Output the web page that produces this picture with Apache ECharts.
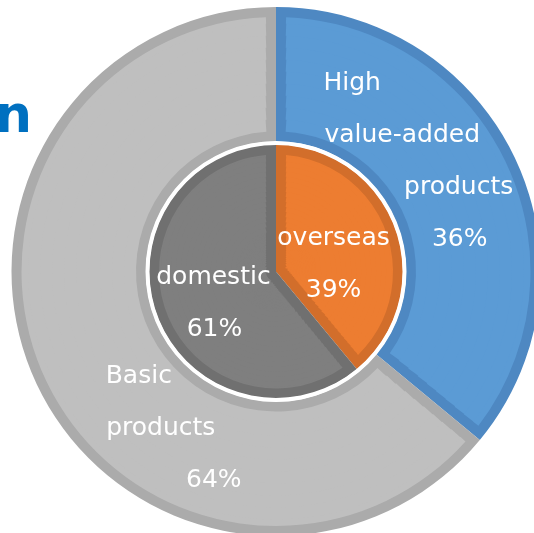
<!DOCTYPE html>
<html>
<head>
<meta charset="utf-8">
<script src="https://cdn.jsdelivr.net/npm/echarts@6/dist/echarts.min.js"></script>
<style>
  html, body { margin: 0; padding: 0; background: #ffffff; }
  #chart { width: 534px; height: 533px; }
</style>
</head>
<body>
<div id="chart"></div>
<script>
// Product mix (outer ring) and sales region split (inner pie), in percent
const productNames = ['High value-added products', 'Basic products'];
const productShares = [36, 64];
const regionNames = ['overseas', 'domestic'];
const regionShares = [39, 61];

// geometry (px)
const CENTER = [276, 271.5];
const OUTER = [130, 264.5];
const INNER = 127;
const BAND = 10;          // width of the darker rim inside every slice

// colours: slice body and its darker rim
const productFill = ['#5B9BD5', '#BFBFBF'];
const productEdge = ['#4E88C2', '#ABABAB'];
const regionFill = ['#ED7D31', '#7F7F7F'];
const regionEdge = ['#D26E2B', '#707070'];

const FONT = 'DejaVu Sans';

// horizontal shift of each label line from the label block centre
const productLineShift = [[-50, 0, 56.5, 57.5], [-22, 0, 53]];
const regionLineShift = [[0, 0], [-1, 0]];
// displacement of each label block from the default inside position
const productLabelMove = [[-55, -24.5], [66, 72]];
const regionLabelMove = [[-5, 15.5], [1, 9.5]];

function lineStyle(shift) {
  return {
    fontFamily: FONT, fontSize: 25, lineHeight: 52, color: '#ffffff',
    padding: shift >= 0 ? [0, 0, 0, 2 * shift] : [0, -2 * shift, 0, 0]
  };
}

function richFor(prefix, shifts) {
  const rich = {};
  shifts.forEach((arr, d) => arr.forEach((s, i) => { rich[prefix + d + '_' + i] = lineStyle(s); }));
  return rich;
}

function formatterFor(prefix) {
  return p => p.name.split(' ').concat([p.value + '%'])
    .map((t, i) => '{' + prefix + p.dataIndex + '_' + i + '|' + t + '}')
    .join('\n');
}

function pieBase(extra) {
  return Object.assign({
    type: 'pie', center: CENTER, startAngle: 90, clockwise: true,
    silent: true, animation: false, avoidLabelOverlap: false,
    label: { show: false }, labelLine: { show: false },
    emphasis: { disabled: true }
  }, extra);
}

function sliceData(names, values, colors) {
  return names.map((n, i) => ({ name: n, value: values[i], itemStyle: { color: colors[i] } }));
}

// full-size slices in the rim colour
function rimLayer(names, values, colors, radius, z) {
  return pieBase({ radius: radius, z: z, data: sliceData(names, values, colors) });
}

// slice bodies inset by BAND, built from thin rings whose gap keeps the rim width constant;
// rings are finer close to the centre where the gap angle changes fastest
function bodyLayer(names, values, colors, r0, r1, fineUntil, fineStep, step, z) {
  const list = [];
  let a = r0;
  while (a < r1 - 0.01) {
    const s = a < fineUntil ? fineStep : step;
    const b = Math.min(a + s, r1);
    const mid = (a + b) / 2;
    const pad = 2 * Math.asin(Math.min(1, BAND / mid)) * 180 / Math.PI;
    list.push(pieBase({
      radius: [a, Math.min(b + 1, r1)], z: z, padAngle: pad,
      data: sliceData(names, values, colors)
    }));
    a = b;
  }
  return list;
}

function labelLayer(names, values, radius, prefix, shifts, moves, z) {
  return pieBase({
    radius: radius, z: z,
    data: names.map((n, i) => ({ name: n, value: values[i], itemStyle: { color: 'rgba(0,0,0,0)' } })),
    label: {
      show: true, position: 'inside', formatter: formatterFor(prefix),
      fontFamily: FONT, fontSize: 25, lineHeight: 52, color: '#ffffff',
      rich: richFor(prefix, shifts)
    },
    labelLayout: p => ({ dx: moves[p.dataIndex][0], dy: moves[p.dataIndex][1] })
  });
}

const series = [].concat(
  rimLayer(productNames, productShares, productEdge, OUTER, 1),
  bodyLayer(productNames, productShares, productFill, OUTER[0] + BAND, OUTER[1] - BAND, 0, 12, 12, 2),
  rimLayer(regionNames, regionShares, regionEdge, [0, INNER], 1),
  bodyLayer(regionNames, regionShares, regionFill, 10.2, INNER - BAND, 40, 1.5, 5, 2),
  pieBase({ radius: [INNER - 0.5, OUTER[0] + 0.5], z: 3, data: [{ value: 1, itemStyle: { color: '#ffffff' } }] }),
  labelLayer(productNames, productShares, OUTER, 'p', productLineShift, productLabelMove, 5),
  labelLayer(regionNames, regionShares, [0, INNER], 'r', regionLineShift, regionLabelMove, 5)
);

const chart = echarts.init(document.getElementById('chart'), null, { renderer: 'canvas' });
chart.setOption({
  backgroundColor: '#ffffff',
  animation: false,
  graphic: [{
    type: 'text', x: -5, y: 92, silent: true,
    style: { text: 'n', font: 'bold 52px "DejaVu Sans"', fill: '#0070C0' }
  }],
  series: series
});
</script>
</body>
</html>
